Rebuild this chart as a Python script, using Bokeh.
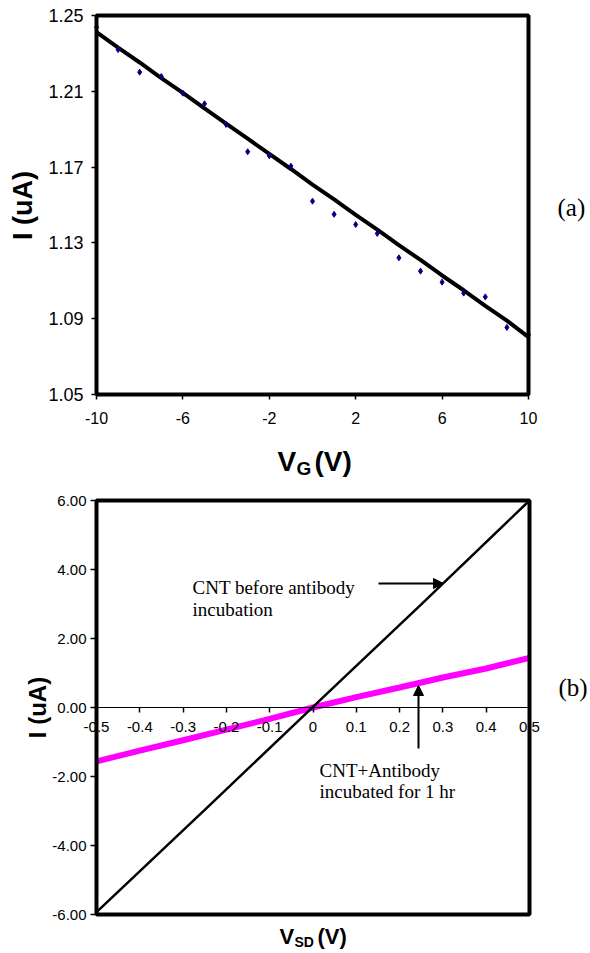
import math
from bokeh.plotting import figure
from bokeh.layouts import column
from bokeh.models import (FixedTicker, Label, Arrow, NormalHead, Range1d,
                          NumeralTickFormatter, LinearAxis, BoxAnnotation)
from bokeh.embed import file_html
from bokeh.resources import INLINE

# ---------------- data: panel (a) ----------------
vg_points = [-10, -9, -8, -7, -6, -5, -4, -3, -2, -1, 0, 1, 2, 3, 4, 5, 6, 7, 8, 9, 10]
i_points = [1.2438, 1.2320, 1.2201, 1.2178, 1.2090, 1.2034, 1.1925, 1.1781, 1.1760, 1.1705,
            1.1520, 1.1451, 1.1397, 1.1350, 1.1221, 1.1151, 1.1093, 1.1035, 1.1015, 1.0854, 1.0815]
vg_fit = [-10, -9, -8, -7, -6, -5, -4, -3, -2, -1, 0, 1, 2, 3, 4, 5, 6, 7, 8, 9, 10]
i_fit = [1.2412, 1.2330, 1.2252, 1.2170, 1.2092, 1.2010, 1.1930, 1.1850, 1.1770, 1.1690,
         1.1608, 1.1530, 1.1448, 1.1370, 1.1288, 1.1210, 1.1128, 1.1050, 1.0968, 1.0890, 1.0803]
a_xticks = [-10, -6, -2, 2, 6, 10]
a_yticks = [1.05, 1.09, 1.13, 1.17, 1.21, 1.25]
a_xlim = (-10, 10)
a_ylim = (1.05, 1.25)

# ---------------- data: panel (b) ----------------
vsd_before = [-0.5, -0.25, 0.0, 0.25, 0.5]
i_before = [-5.93, -2.97, 0.02, 2.99, 6.00]
vsd_after = [-0.5, -0.4, -0.3, -0.2, -0.1, 0.0, 0.1, 0.2, 0.3, 0.4, 0.5]
i_after = [-1.56, -1.25, -0.95, -0.64, -0.33, 0.00, 0.30, 0.58, 0.87, 1.13, 1.44]
b_xticks = [-0.5, -0.4, -0.3, -0.2, -0.1, 0.0, 0.1, 0.2, 0.3, 0.4, 0.5]
b_yticks = [-6.0, -4.0, -2.0, 0.0, 2.0, 4.0, 6.0]
b_xlim = (-0.5, 0.5)
b_ylim = (-6, 6)

SANS = "Liberation Sans"
SERIF = "Liberation Serif"
W = 590
H1 = 480
H2 = 472


def style_axis(ax, size, standoff, tick_out):
    ax.axis_line_color = None
    ax.major_tick_in = 0
    ax.major_tick_out = tick_out
    ax.major_tick_line_width = 1.5
    ax.major_tick_line_color = "black"
    ax.minor_tick_line_color = None
    ax.major_label_text_font = SANS
    ax.major_label_text_color = "black"
    ax.major_label_text_font_size = size
    ax.major_label_standoff = standoff


def add_label(p, x, y, text, size, font=SANS, bold=False, angle=0.0, align="left"):
    p.add_layout(Label(x=x, y=y, text=text, angle=angle, text_align=align,
                       text_baseline="middle", text_font=font,
                       text_font_style="bold" if bold else "normal",
                       text_font_size=size, text_color="black"))


def add_box(p, xlim, ylim):
    p.add_layout(BoxAnnotation(left=xlim[0], right=xlim[1], bottom=ylim[0], top=ylim[1],
                               fill_color=None, fill_alpha=0, line_color="black",
                               line_alpha=1.0, line_width=4))


# ================= panel (a) =================
A_L, A_T, A_R, A_B = 96, 15, 528, 394      # plot box in canvas px
a_sx = (A_R - A_L) / (a_xlim[1] - a_xlim[0])
a_sy = (A_B - A_T) / (a_ylim[1] - a_ylim[0])


def ax_(px):
    return a_xlim[0] + (px - A_L) / a_sx


def ay_(py):
    return a_ylim[1] - (py - A_T) / a_sy


p1 = figure(width=W, height=H1, x_range=Range1d(ax_(0), ax_(W)),
            y_range=Range1d(ay_(H1), ay_(0)), output_backend="svg",
            toolbar_location=None, x_axis_location=None, y_axis_location=None,
            min_border=0)
p1.grid.visible = False
p1.outline_line_color = None
p1.background_fill_color = "white"
p1.border_fill_color = "white"

xa1 = LinearAxis(fixed_location=a_ylim[0], bounds=a_xlim, ticker=FixedTicker(ticks=a_xticks),
                 formatter=NumeralTickFormatter(format="0"))
style_axis(xa1, "16px", 12, 5)
p1.add_layout(xa1, "below")
ya1 = LinearAxis(fixed_location=a_xlim[0], bounds=a_ylim, ticker=FixedTicker(ticks=a_yticks),
                 formatter=NumeralTickFormatter(format="0.00"))
style_axis(ya1, "18px", 8, 5)
p1.add_layout(ya1, "left")

p1.line(vg_fit, i_fit, line_color="black", line_width=4)
p1.scatter(vg_points, i_points, marker="diamond", size=6, color="#000080")
add_box(p1, a_xlim, a_ylim)

add_label(p1, ax_(22), ay_(205), "I (uA)", "27px", bold=True, angle=math.pi / 2, align="center")
add_label(p1, ax_(277), ay_(461), "V", "28px", bold=True)
add_label(p1, ax_(296), ay_(468), "G", "19px", bold=True)
add_label(p1, ax_(314), ay_(461), "(V)", "28px", bold=True)
add_label(p1, ax_(557), ay_(207), "(a)", "25px", font=SERIF)

# ================= panel (b) =================
P2_TOP = H1
B_L, B_T, B_R, B_B = 96, 500, 529, 914     # plot box in page px
b_sx = (B_R - B_L) / (b_xlim[1] - b_xlim[0])
b_sy = (B_B - B_T) / (b_ylim[1] - b_ylim[0])


def bx_(px):
    return b_xlim[0] + (px - B_L) / b_sx


def by_(py):
    return b_ylim[1] - (py - B_T) / b_sy


p2 = figure(width=W, height=H2, x_range=Range1d(bx_(0), bx_(W)),
            y_range=Range1d(by_(P2_TOP + H2), by_(P2_TOP)), output_backend="svg",
            toolbar_location=None, x_axis_location=None, y_axis_location=None,
            min_border=0)
p2.grid.visible = False
p2.outline_line_color = None
p2.background_fill_color = "white"
p2.border_fill_color = "white"

xa2 = LinearAxis(fixed_location=0, bounds=b_xlim, ticker=FixedTicker(ticks=b_xticks),
                 formatter=NumeralTickFormatter(format="0.[0]"))
style_axis(xa2, "15px", 9, 5)
xa2.axis_line_color = "black"
xa2.axis_line_width = 1
p2.add_layout(xa2, "below")
ya2 = LinearAxis(fixed_location=b_xlim[0], bounds=b_ylim, ticker=FixedTicker(ticks=b_yticks),
                 formatter=NumeralTickFormatter(format="0.00"))
style_axis(ya2, "15px", 4, 6)
p2.add_layout(ya2, "left")

p2.line(vsd_after, i_after, line_color="#FF00FF", line_width=6)
p2.line(vsd_before, i_before, line_color="black", line_width=2.5)
add_box(p2, b_xlim, b_ylim)

add_label(p2, bx_(37), by_(707), "I (uA)", "24px", bold=True, angle=math.pi / 2, align="center")
add_label(p2, bx_(279), by_(936), "V", "22px", bold=True)
add_label(p2, bx_(294), by_(941), "SD", "14px", bold=True)
add_label(p2, bx_(317), by_(936), "(V)", "22px", bold=True)
add_label(p2, bx_(558), by_(687), "(b)", "25px", font=SERIF)
for txt, px, py in [("CNT before antibody", 192, 587), ("incubation", 192, 609),
                    ("CNT+Antibody", 319, 770), ("incubated for 1 hr", 319, 791)]:
    add_label(p2, bx_(px), by_(py), txt, "19px", font=SERIF)

p2.add_layout(Arrow(end=NormalHead(size=10, fill_color="black", line_color="black"),
                    x_start=bx_(378), y_start=by_(583), x_end=bx_(443), y_end=by_(583),
                    line_color="black", line_width=2))
p2.add_layout(Arrow(end=NormalHead(size=10, fill_color="black", line_color="black"),
                    x_start=bx_(418), y_start=by_(748), x_end=bx_(418), y_end=by_(685),
                    line_color="black", line_width=2))

layout = column(p1, p2, spacing=0)
open("out.html", "w").write(file_html(layout, INLINE))
